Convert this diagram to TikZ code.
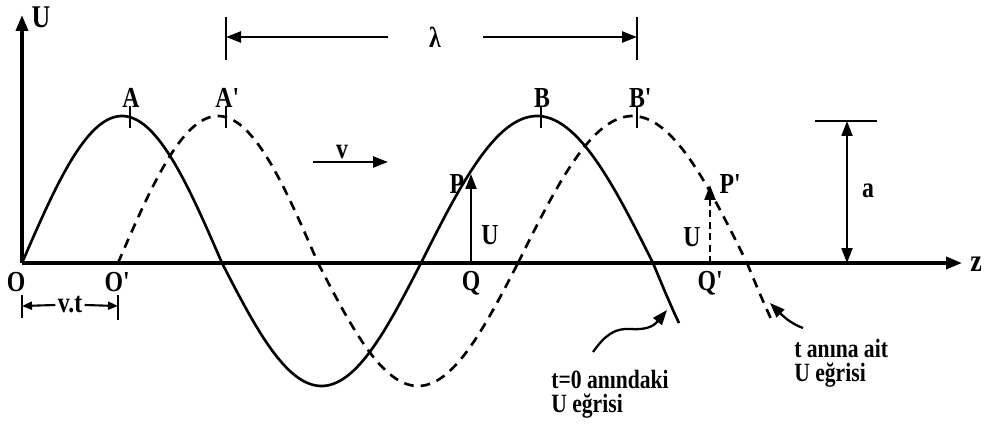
\documentclass[tikz,border=0pt]{standalone}
\usepackage{fontspec}
\setmainfont{Liberation Serif}[FakeStretch=0.82]
\usetikzlibrary{arrows.meta}
\newcommand{\prm}{\textquotesingle}
\begin{document}
\begin{tikzpicture}[x=0.02cm,y=-0.02cm,
  solidc/.style={line width=1.5pt},
  dashc/.style={line width=1.5pt,dash pattern=on 5.5pt off 4pt},
  axisline/.style={line width=2pt,-{Triangle[length=0.32cm,width=0.24cm]}},
  arrtip/.style={-{Triangle[length=0.3cm,width=0.22cm]}},
  smallarr/.style={-{Triangle[length=0.2cm,width=0.16cm]}},
  tickln/.style={line width=1.1pt},
  lbl/.style={font=\bfseries\fontsize{16.5}{18}\selectfont,inner sep=0pt},
  captxt/.style={font=\bfseries\fontsize{15}{13.5}\selectfont,inner sep=0pt,align=left,anchor=west}]
\useasboundingbox (0,0) rectangle (993,429);
% axes
\coordinate (O) at (22,263);
\coordinate (zend) at (962,263);
\coordinate (Utop) at (22,15);
\draw[axisline] (O) -- (zend);
\draw[axisline] (O) -- (Utop);
\node[lbl,font=\bfseries\fontsize{18}{20}\selectfont] (Ulab) at (41,17) {U};
\node[lbl,font=\bfseries\fontsize{18}{20}\selectfont] (zlab) at (976,264) {z};
\node[lbl] (Olab) at (16,282) {O};
\node[lbl] (Oplab) at (118,282) {O\prm};
% solid curve (t=0)
\draw[solidc] plot[domain=22:222,samples=60] (\x,{263-147*sin(180*((\x-22)/200))});
\draw[solidc] plot[domain=222:421,samples=60] (\x,{263+123*sin(180*((\x-222)/199))});
\draw[solidc] plot[domain=421:653,samples=60] (\x,{263-147*sin(180*((\x-421)/232))});
\draw[solidc] plot[domain=653:679,samples=10] (\x,{263+123*sin(180*((\x-653)/160))});
% dashed curve (t)
\draw[dashc] plot[domain=118:318,samples=60] (\x,{263-147*sin(180*((\x-118)/200))});
\draw[dashc] plot[domain=318:518,samples=60] (\x,{263+123*sin(180*((\x-318)/200))});
\draw[dashc] plot[domain=518:747,samples=60] (\x,{263-147*sin(180*((\x-518)/229))});
\draw[dashc] plot[domain=747:773,samples=10] (\x,{263+123*sin(180*((\x-747)/160))});
% peak ticks and labels
\draw[tickln] (130,106) -- (130,128);
\draw[tickln] (226,106) -- (226,128);
\draw[tickln] (541,106) -- (541,128);
\draw[tickln] (637,106) -- (637,128);
\node[lbl] (Alab) at (131,98) {A};
\node[lbl] (Aplab) at (228,98) {A\prm};
\node[lbl] (Blab) at (542,98) {B};
\node[lbl] (Bplab) at (641,98) {B\prm};
% lambda
\coordinate (L1) at (226,37);
\coordinate (L2) at (637,37);
\draw[tickln] (226,17) -- (226,60);
\draw[tickln] (637,17) -- (637,60);
\node[lbl] (lam) at (435,37) {λ};
\draw[line width=1.4pt,arrtip] (388,37) -- (L1);
\draw[line width=1.4pt,arrtip] (483,37) -- (L2);
% v arrow
\node[lbl] (vlab) at (342,152) {v};
\coordinate (v1) at (313,162);
\coordinate (v2) at (388,162);
\draw[line width=1.4pt,arrtip] (v1) -- (v2);
% v.t
\draw[tickln] (22,295) -- (22,318);
\draw[tickln] (118,295) -- (118,320);
\node[lbl] (vt) at (70,305) {v.t};
\coordinate (vt1) at (22,306);
\coordinate (vt2) at (118,306);
\draw[line width=1.2pt,smallarr] (vt.west) ++(-2,0) -- (vt1);
\draw[line width=1.2pt,smallarr] (vt.east) ++(2,0) -- (vt2);
% P, Q
\coordinate (Q) at (471,263);
\coordinate (P) at (471,174);
\draw[line width=1.2pt,arrtip] (Q) -- (P);
\node[lbl] (Plab) at (457,184) {P};
\node[lbl] (UQ) at (490,235) {U};
\node[lbl] (Qlab) at (471,283) {Q};
% P', Q'
\coordinate (Qp) at (710,263);
\coordinate (Pp) at (710,185);
\draw[line width=1.2pt,dash pattern=on 4pt off 2.5pt,arrtip] (Qp) -- (Pp);
\node[lbl] (Pplab) at (731,184) {P\prm};
\node[lbl] (UQp) at (692,237) {U};
\node[lbl] (Qplab) at (711,283) {Q\prm};
% amplitude a
\coordinate (a1) at (847,121);
\coordinate (a2) at (847,263);
\draw[line width=1.4pt] (815,121) -- (877,121);
\draw[line width=1.2pt,{Triangle[length=0.3cm,width=0.22cm]}-{Triangle[length=0.3cm,width=0.22cm]}] (a1) -- (a2);
\node[lbl] (alab) at (868,191) {a};
% captions
\coordinate (c1s) at (593,352);
\coordinate (c1e) at (667,310);
\draw[line width=1.3pt,arrtip] (c1s) .. controls (605,335) and (615,328) .. (630,329) .. controls (645,330) and (653,327) .. (c1e);
\node[captxt] (cap1) at (551,394) {t=0 anındaki\\U eğrisi};
\coordinate (c2s) at (803,328);
\coordinate (c2e) at (770,303);
\draw[line width=1.3pt,arrtip] (c2s) .. controls (792,324) and (785,318) .. (c2e);
\node[captxt] (cap2) at (794,363) {t anına ait\\U eğrisi};
\end{tikzpicture}
\end{document}
